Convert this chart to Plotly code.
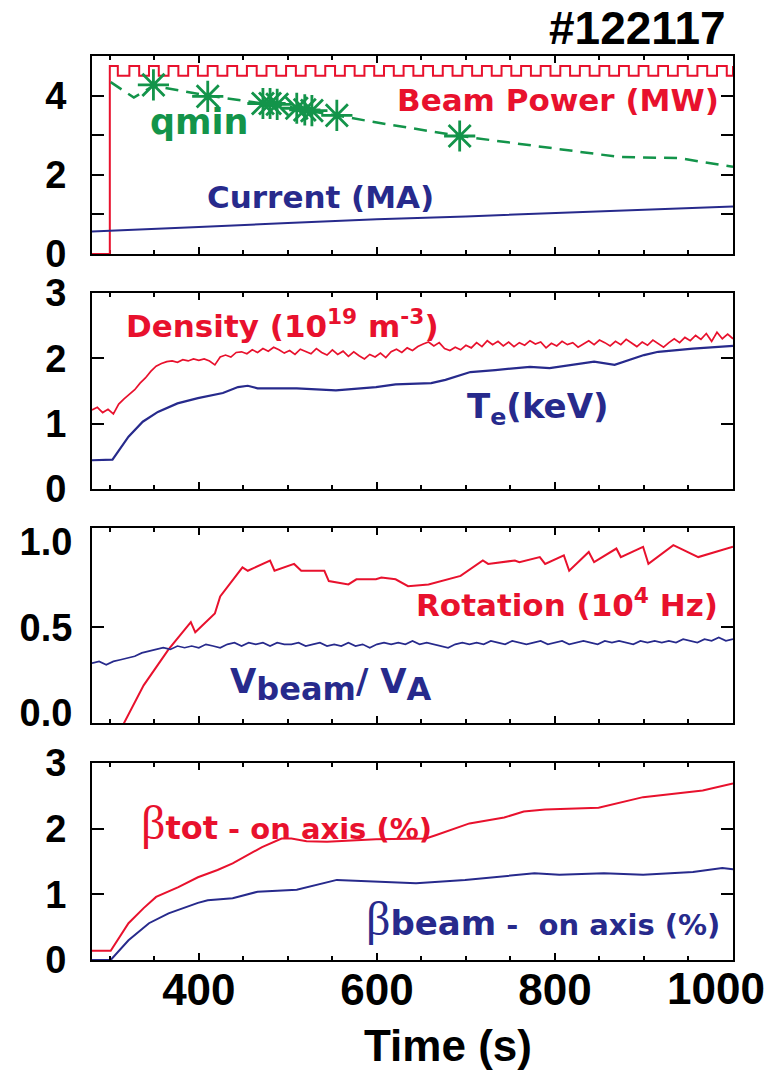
import plotly.graph_objects as go

# ---------------- data ----------------
# Panel 1: beam power square wave (MW), q_min, plasma current (MA)
beam_pre_t = [280, 300]
beam_pre_p = [0.0, 0.0]
pulse_on = [300, 322, 344, 366, 388, 410, 432, 454, 476, 498, 520, 542, 564, 586, 608,
            630, 652, 674, 696, 718, 740, 762, 784, 806, 828, 850, 872, 894, 916, 938,
            960, 982]
pulse_off = [309, 333, 355, 377, 399, 421, 443, 465, 487, 509, 531, 553, 575, 597, 619,
             641, 663, 685, 707, 729, 751, 773, 795, 817, 839, 861, 883, 905, 927, 949,
             971, 993]
beam_high = 4.75
beam_low = 4.5

qmin_t = [301, 327, 349, 410, 472, 480, 488, 510, 520, 527, 555, 600, 693, 760, 872, 940, 1000]
qmin_v = [4.34, 3.95, 4.25, 4.0, 3.8, 3.8, 3.78, 3.68, 3.63, 3.6, 3.5, 3.32, 2.98, 2.78, 2.45, 2.42, 2.2]
qstar_t = [349, 410, 472, 480, 488, 510, 519, 527, 555, 693]
qstar_v = [4.27, 3.98, 3.8, 3.8, 3.78, 3.68, 3.64, 3.62, 3.5, 2.98]

cur_t = [280, 340, 400, 500, 600, 700, 800, 900, 1000]
cur_v = [0.57, 0.62, 0.68, 0.78, 0.88, 0.95, 1.03, 1.11, 1.2]

# Panel 2: density (1e19 m^-3), Te (keV)
dens_t = list(range(280, 1001, 6))
dens_v = [1.21, 1.25, 1.17, 1.22, 1.15, 1.30, 1.38, 1.45, 1.52, 1.62, 1.70, 1.80, 1.88, 1.92,
          1.95, 1.96, 1.94, 1.98, 1.96, 1.99, 1.97, 1.99, 1.96, 1.90, 2.02, 2.05, 2.02, 2.09,
          2.10, 2.07, 2.13, 2.09, 2.15, 2.11, 2.17, 2.13, 2.08, 2.12, 2.06, 2.14, 2.10, 2.07,
          2.15, 2.09, 2.05, 2.13, 2.06, 2.11, 2.03, 2.10, 2.04, 1.99, 2.06, 2.02, 2.08, 2.01,
          2.10, 2.14, 2.09, 2.16, 2.12, 2.18, 2.22, 2.25, 2.19, 2.24, 2.15, 2.12, 2.17, 2.13,
          2.20, 2.16, 2.24, 2.18, 2.27, 2.21, 2.26, 2.19, 2.25, 2.18, 2.24, 2.20, 2.27, 2.22,
          2.25, 2.16, 2.23, 2.19, 2.26, 2.21, 2.24, 2.17, 2.22, 2.27, 2.21, 2.28, 2.24, 2.19,
          2.26, 2.21, 2.29, 2.23, 2.18, 2.25, 2.20, 2.28, 2.22, 2.17, 2.24, 2.30, 2.24, 2.32,
          2.27, 2.35, 2.29, 2.38, 2.26, 2.40, 2.30, 2.37, 2.30]

te_t = [280, 303, 321, 337, 354, 376, 399, 427, 444, 455, 466, 510, 554, 599, 621, 661,
        677, 705, 733, 772, 794, 844, 867, 900, 916, 955, 1000]
te_v = [0.44, 0.45, 0.80, 1.03, 1.18, 1.31, 1.39, 1.47, 1.56, 1.58, 1.54, 1.54, 1.51, 1.56,
        1.60, 1.62, 1.67, 1.79, 1.82, 1.87, 1.85, 1.95, 1.90, 2.05, 2.10, 2.15, 2.19]

# Panel 3: rotation (1e4 Hz), v_beam / v_A
rot_t = [312, 338, 366, 391, 396, 418, 424, 449, 455, 480, 485, 507, 515, 541, 546, 568,
         577, 599, 605, 621, 635, 658, 694, 719, 725, 755, 760, 783, 789, 810, 816, 838,
         844, 869, 874, 899, 905, 933, 961, 1000]
rot_v = [-0.1, 0.16, 0.37, 0.53, 0.47, 0.58, 0.68, 0.85, 0.83, 0.89, 0.83, 0.87, 0.83, 0.83,
         0.77, 0.75, 0.78, 0.78, 0.79, 0.78, 0.74, 0.75, 0.80, 0.89, 0.87, 0.89, 0.88, 0.91,
         0.87, 0.92, 0.83, 0.94, 0.88, 0.96, 0.91, 0.97, 0.87, 0.98, 0.91, 0.97]

vb_t = list(range(280, 1001, 8))
vb_v = [0.29, 0.30, 0.28, 0.30, 0.31, 0.32, 0.33, 0.35, 0.36, 0.37, 0.38, 0.37, 0.39, 0.38,
        0.39, 0.38, 0.40, 0.39, 0.38, 0.40, 0.41, 0.39, 0.41, 0.40, 0.41, 0.39, 0.41, 0.40,
        0.40, 0.41, 0.39, 0.40, 0.41, 0.39, 0.40, 0.39, 0.41, 0.39, 0.40, 0.38, 0.40, 0.41,
        0.40, 0.41, 0.40, 0.42, 0.40, 0.41, 0.40, 0.39, 0.38, 0.40, 0.41, 0.40, 0.41, 0.40,
        0.42, 0.41, 0.40, 0.42, 0.41, 0.40, 0.41, 0.42, 0.40, 0.41, 0.42, 0.40, 0.41, 0.42,
        0.41, 0.40, 0.42, 0.41, 0.42, 0.41, 0.40, 0.42, 0.41, 0.42, 0.41, 0.42, 0.41, 0.43,
        0.42, 0.41, 0.43, 0.42, 0.44, 0.42, 0.43]

# Panel 4: beta_tot and beta_beam on axis (%)
btot_t = [280, 301, 321, 338, 352, 377, 399, 421, 438, 455, 471, 493, 504, 521, 544, 599,
          655, 666, 704, 743, 765, 789, 849, 899, 966, 1000]
btot_v = [0.14, 0.14, 0.56, 0.79, 0.96, 1.11, 1.26, 1.37, 1.47, 1.60, 1.72, 1.85, 1.85,
          1.81, 1.80, 1.84, 1.85, 1.90, 2.08, 2.17, 2.26, 2.29, 2.32, 2.48, 2.58, 2.69]

bbeam_t = [280, 301, 321, 344, 366, 399, 410, 438, 466, 510, 555, 599, 644, 699, 777, 805,
           855, 899, 955, 988, 1000]
bbeam_v = [0.0, 0.0, 0.30, 0.56, 0.71, 0.87, 0.91, 0.94, 1.04, 1.07, 1.22, 1.19, 1.17,
           1.22, 1.32, 1.30, 1.32, 1.30, 1.34, 1.40, 1.38]

x_ticks = [400, 600, 800]
x_ticktext = ["400", "600", "800"]

# ---------------- styling ----------------
RED = "#e8112d"
BLUE = "#272a8c"
GREEN = "#13944a"
LW = 2

fig = go.Figure()


def ax(n):
    return ("x" if n == 1 else f"x{n}"), ("y" if n == 1 else f"y{n}")


def line(x, y, n, color, **kw):
    xa, ya = ax(n)
    d = dict(color=color, width=LW)
    d.update(kw.pop("line", {}))
    fig.add_trace(go.Scatter(x=x, y=y, xaxis=xa, yaxis=ya, mode="lines", line=d,
                             showlegend=False, hoverinfo="skip", cliponaxis=True, **kw))


# beam power step trace
bt = list(beam_pre_t)
bp = list(beam_pre_p)
for on, off in zip(pulse_on, pulse_off):
    bt += [on, off]
    bp += [beam_high, beam_low]
bt.append(1000)
bp.append(beam_high)
line(bt, bp, 1, RED, line=dict(shape="hv"))
line(qmin_t, qmin_v, 1, GREEN, line=dict(dash="13px,8px", width=2.5))
fig.add_trace(go.Scatter(x=qstar_t, y=qstar_v, xaxis="x", yaxis="y", mode="markers",
                         marker=dict(symbol="asterisk-open", size=26, color=GREEN,
                                     line=dict(color=GREEN, width=2.8)),
                         showlegend=False, hoverinfo="skip"))
line(cur_t, cur_v, 1, BLUE)

line(dens_t, dens_v, 2, RED, line=dict(width=1.7))
line(te_t, te_v, 2, BLUE, line=dict(width=2.2))

line(rot_t, rot_v, 3, RED)
line(vb_t, vb_v, 3, BLUE, line=dict(width=1.7))

line(btot_t, btot_v, 4, RED)
line(bbeam_t, bbeam_v, 4, BLUE)

# layout
ML, MR, MT, MB = 92, 43, 56, 110
W, H = 776, 1070
PH = H - MT - MB


def dom(top_px, bot_px):
    return [(H - MB - bot_px) / PH, (H - MB - top_px) / PH]


panels = {1: (56, 254), 2: (293, 489), 3: (528, 723), 4: (763, 960)}

tickfont_y = dict(family="Liberation Sans", size=38, color="black", weight="bold")
tickfont_x = dict(family="Liberation Sans", size=44, color="black", weight="bold")

layout = dict(width=W, height=H, margin=dict(l=ML, r=MR, t=MT, b=MB),
              paper_bgcolor="white", plot_bgcolor="white", showlegend=False)

for n in range(1, 5):
    xa = "xaxis" if n == 1 else f"xaxis{n}"
    ya = "yaxis" if n == 1 else f"yaxis{n}"
    layout[xa] = dict(
        domain=[0, 1], anchor="y" if n == 1 else f"y{n}", range=[280, 1000],
        showline=True, linecolor="black", linewidth=2, mirror="ticks",
        ticks="inside", ticklen=7, tickwidth=1.5, tickcolor="black",
        tickvals=x_ticks, ticktext=x_ticktext, showticklabels=(n == 4),
        tickfont=tickfont_x, ticklabelstandoff=-10,
        minor=dict(tickmode="linear", tick0=300, dtick=50, ticks="inside",
                   ticklen=4, tickwidth=1.5, tickcolor="black"),
        showgrid=False, zeroline=False, fixedrange=True,
        layer="below traces" if n == 1 else "above traces")
    layout[ya] = dict(
        domain=dom(*panels[n]), anchor="x" if n == 1 else f"x{n}",
        showline=True, linecolor="black", linewidth=2, mirror="ticks",
        ticks="inside", ticklen=12, tickwidth=2, tickcolor="black",
        tickfont=tickfont_y, ticklabelstandoff=16,
        showgrid=False, zeroline=False, fixedrange=True)

layout["yaxis"].update(range=[0, 5], tickvals=[0, 2, 4], ticktext=["0", "2", "4"],
                       minor=dict(tickvals=[1, 3], ticks="inside", ticklen=12,
                                  tickwidth=2, tickcolor="black"))
layout["yaxis2"].update(range=[0, 3], tickvals=[0, 1, 2, 3], ticktext=["0", "1", "2", "3"])
layout["yaxis3"].update(range=[-0.06, 1.08], tickvals=[0, 0.5, 1.0],
                        ticktext=["0.0", "0.5", "1.0"], ticklen=0, ticklabelstandoff=10,
                        minor=dict(tickvals=[0.5], ticks="inside", ticklen=12,
                                   tickwidth=2, tickcolor="black"))
layout["yaxis4"].update(range=[0, 3], tickvals=[0, 1, 2, 3], ticktext=["0", "1", "2", "3"])

fig.update_layout(**layout)

LF = "DejaVu Sans"


def note(n, text, x, y, color, size=31, xanchor="left", yanchor="middle", **kw):
    xr = "x domain" if n == 1 else f"x{n} domain"
    yr = "y domain" if n == 1 else f"y{n} domain"
    fig.add_annotation(text=text, x=x, y=y, xref=xr, yref=yr, xanchor=xanchor,
                       yanchor=yanchor, showarrow=False,
                       font=dict(family=LF, size=size, color=color, weight="bold"), **kw)


BETA = '<span style="font-family:Liberation Serif;font-weight:normal;font-size:48px">β</span>'
SUBV = '<sub><span style="font-size:32px">{}</span></sub>'

note(1, "Beam Power (MW)", 0.981, 0.78, RED, xanchor="right")
note(1, "qmin", 0.088, 0.665, GREEN, size=35)
note(1, "Current (MA)", 0.176, 0.29, BLUE)
note(2, "Density (10<sup>19</sup> m<sup>-3</sup>)", 0.05, 0.84, RED)
note(2, "T<sub>e</sub>(keV)", 0.582, 0.41, BLUE, size=34)
note(3, "Rotation (10<sup>4</sup> Hz)", 0.98, 0.615, RED, xanchor="right")
note(3, "V" + SUBV.format("beam") + "/ V" + SUBV.format("A"), 0.212, 0.2, BLUE, size=34)
note(4, BETA + 'tot<span style="font-size:29px"> - on axis (%)</span>', 0.073, 0.70, RED, size=32)
note(4, BETA + 'beam<span style="font-size:29px"> -  on axis (%)</span>', 0.424, 0.21, BLUE, size=34)

# x tick label at the right end (shifted inward like the original)
fig.add_annotation(text="1000", x=1000, y=0, xref="x4", yref="y4 domain", xanchor="right",
                   yanchor="top", xshift=34, yshift=-2, showarrow=False, font=tickfont_x)
# axis title
fig.add_annotation(text="Time (s)", x=(448 - ML) / (W - ML - MR), y=(H - MB - 1045) / PH,
                   xref="paper", yref="paper", xanchor="center", yanchor="middle",
                   showarrow=False, font=dict(family="Liberation Sans", size=44,
                                              color="black", weight="bold"))
# shot number
fig.add_annotation(text="#122117", x=(728 - ML) / (W - ML - MR), y=(H - MB - 28) / PH,
                   xref="paper", yref="paper", xanchor="right", yanchor="middle",
                   showarrow=False, font=dict(family="Liberation Sans", size=46,
                                              color="black", weight="bold"))

fig.write_html("out.html")
